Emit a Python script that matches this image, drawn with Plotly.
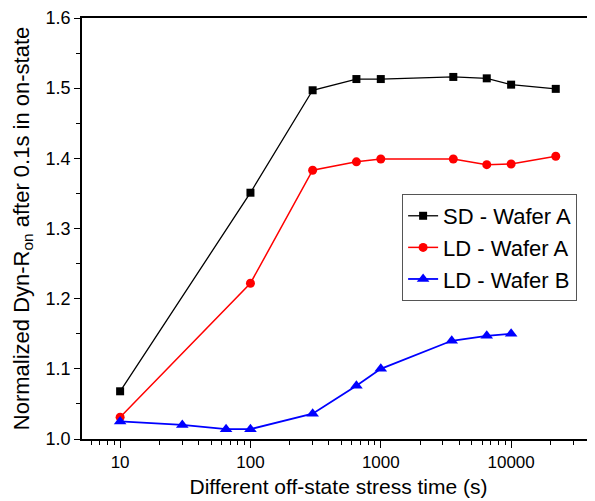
import numpy as np
import plotly.graph_objects as go

# Data
sd_a_x = [10, 100, 300, 650, 1000, 3600, 6500, 10000, 22000]
sd_a_y = [1.068, 1.351, 1.497, 1.513, 1.513, 1.516, 1.514, 1.505, 1.499]

ld_a_x = [10, 100, 300, 650, 1000, 3600, 6500, 10000, 22000]
ld_a_y = [1.031, 1.222, 1.383, 1.395, 1.399, 1.399, 1.391, 1.392, 1.403]

ld_b_x = [10, 30, 65, 100, 300, 650, 1000, 3500, 6500, 10000]
ld_b_y = [1.025, 1.020, 1.014, 1.014, 1.036, 1.076, 1.100, 1.140, 1.147, 1.150]

x_major = [10, 100, 1000, 10000]
x_major_text = ["10", "100", "1000", "10000"]
x_minor = [m * d for d in [1, 10, 100, 1000, 10000] for m in range(2, 10)]

FONT = "Arial, Liberation Sans, sans-serif"

fig = go.Figure()
fig.add_trace(go.Scatter(x=sd_a_x, y=sd_a_y, mode="lines+markers", name="SD - Wafer A",
                         line=dict(color="black", width=1.3),
                         marker=dict(symbol="square", size=8, color="black")))
fig.add_trace(go.Scatter(x=ld_a_x, y=ld_a_y, mode="lines+markers", name="LD - Wafer A",
                         line=dict(color="#ff0000", width=1.5),
                         marker=dict(symbol="circle", size=9, color="#ff0000")))
fig.add_trace(go.Scatter(x=ld_b_x, y=ld_b_y, mode="lines+markers", name="LD - Wafer B",
                         line=dict(color="#0000ff", width=1.8),
                         marker=dict(symbol="triangle-up", size=11, color="#0000ff")))

fig.update_layout(
    width=595, height=501,
    margin=dict(l=74, r=8, t=10, b=70),
    paper_bgcolor="white", plot_bgcolor="white",
    font=dict(family=FONT, size=17, color="black"),
    showlegend=True,
    legend=dict(x=0.624, y=0.582, xanchor="left", yanchor="top",
                bgcolor="white", bordercolor="#555555", borderwidth=1,
                font=dict(family=FONT, size=22, color="black"),
                tracegroupgap=0, itemwidth=30),
)

fig.update_xaxes(
    type="log", range=[np.log10(5.1), np.log10(44000)],
    tickvals=x_major, ticktext=x_major_text, automargin=False,
    ticks="outside", ticklen=7, tickwidth=1.3, tickcolor="black",
    minor=dict(tickvals=x_minor, ticks="outside", ticklen=4, tickwidth=1.2, tickcolor="black"),
    showline=True, linecolor="black", linewidth=1.6, mirror=True,
    showgrid=False, zeroline=False,
    tickfont=dict(size=17),
    title=dict(text="Different off-state stress time (s)", font=dict(size=21), standoff=8),
)
fig.update_yaxes(
    range=[1.0, 1.6], dtick=0.1, tickformat=".1f", automargin=False,
    ticks="outside", ticklen=6, tickwidth=1.3, tickcolor="black",
    minor=dict(dtick=0.05, ticks="outside", ticklen=4, tickwidth=1.2, tickcolor="black"),
    showline=True, linecolor="black", linewidth=1.6,
    showgrid=False, zeroline=False,
    tickfont=dict(size=18),
    title=dict(text="Normalized Dyn-R<sub>on</sub> after 0.1s in on-state", font=dict(size=22), standoff=10),
)

fig.write_html("out.html")
